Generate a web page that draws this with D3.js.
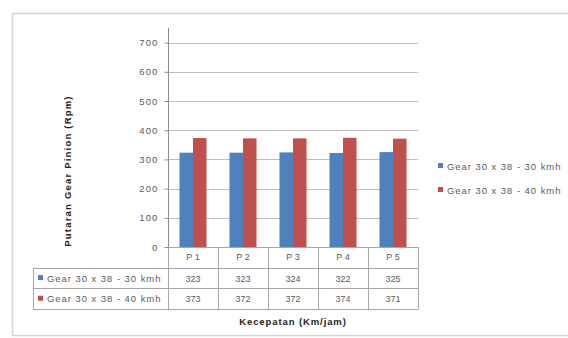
<!DOCTYPE html>
<html>
<head>
<meta charset="utf-8">
<script src="https://cdn.jsdelivr.net/npm/d3@7"></script>
<style>
  html, body { margin: 0; padding: 0; background: #fff; }
  svg { display: block; }
  text { font-family: "Liberation Sans", "DejaVu Sans", sans-serif; }
</style>
</head>
<body>
<svg id="chart" width="568" height="338"></svg>
<script>
// Gear speed test data
const categories = ["P 1", "P 2", "P 3", "P 4", "P 5"];
const seriesNames = ["Gear 30 x 38 - 30 kmh", "Gear 30 x 38 - 40 kmh"];
const series30 = [323, 323, 324, 322, 325];
const series40 = [373, 372, 372, 374, 371];
const yTicks = [0, 100, 200, 300, 400, 500, 600, 700];
const seriesColors = ["#4f81bd", "#c0504d"];
const yTitle = "Putaran Gear Pinion (Rpm)";
const xTitle = "Kecepatan (Km/jam)";

const seriesValues = [series30, series40];
const svg = d3.select("#chart");
const textGray = "#5a5a5a";

// Chart frame
svg.append("rect")
  .attr("x", 12.5).attr("y", 13.5)
  .attr("width", 600).attr("height", 322)
  .attr("fill", "#fff").attr("stroke", "#d4d4d4").attr("stroke-width", 1.5);

const plot = { left: 168, right: 418, top: 28, bottom: 247 };

const x = d3.scaleBand().domain(categories).range([plot.left, plot.right]);
const xInner = d3.scaleBand().domain(d3.range(seriesNames.length))
  .range([0, x.bandwidth()]).paddingOuter(0.85);
const y = d3.scaleLinear().domain([0, 750]).range([plot.bottom, plot.top]);

// Horizontal gridlines
svg.append("g").selectAll("line")
  .data(yTicks.filter(d => d > 0))
  .join("line")
  .attr("x1", plot.left).attr("x2", plot.right)
  .attr("y1", d => Math.round(y(d)) + 0.5).attr("y2", d => Math.round(y(d)) + 0.5)
  .attr("stroke", "#bdbdbd").attr("stroke-width", 1);

// Bars
const groups = svg.append("g").selectAll("g")
  .data(categories)
  .join("g")
  .attr("transform", d => `translate(${x(d)},0)`);

groups.selectAll("rect")
  .data((d, i) => seriesValues.map((vals, s) => ({ s, v: vals[i] })))
  .join("rect")
  .attr("x", d => xInner(d.s))
  .attr("width", xInner.bandwidth())
  .attr("y", d => y(d.v))
  .attr("height", d => y(0) - y(d.v))
  .attr("fill", d => seriesColors[d.s]);

// Y axis
const yAxis = d3.axisLeft(y).tickValues(yTicks).tickSize(4).tickPadding(6);
const gy = svg.append("g").attr("transform", `translate(${plot.left + 0.5},0)`).call(yAxis);
gy.select(".domain").attr("stroke", "#8c8c8c").attr("d", `M0,${plot.top}V${plot.bottom}`);
gy.selectAll(".tick line").attr("stroke", "#8c8c8c");
gy.selectAll(".tick text").attr("fill", textGray).attr("font-size", 9.5)
  .attr("letter-spacing", 1.1);

// Data table
const tableLeft = 33, rowH = 20.7;
const rowTop = [plot.bottom, plot.bottom + rowH, plot.bottom + 2 * rowH, plot.bottom + 3 * rowH];
const tbl = svg.append("g").attr("stroke", "#a6a6a6").attr("stroke-width", 1).attr("fill", "none");

// Horizontal rules
tbl.append("line").attr("x1", plot.left).attr("x2", plot.right)
  .attr("y1", rowTop[0] + 0.5).attr("y2", rowTop[0] + 0.5);
[1, 2, 3].forEach(r => {
  tbl.append("line").attr("x1", tableLeft).attr("x2", plot.right)
    .attr("y1", Math.round(rowTop[r]) + 0.5).attr("y2", Math.round(rowTop[r]) + 0.5);
});
// Vertical rules
tbl.append("line").attr("x1", tableLeft + 0.5).attr("x2", tableLeft + 0.5)
  .attr("y1", Math.round(rowTop[1]) + 0.5).attr("y2", Math.round(rowTop[3]) + 0.5);
categories.forEach(c => {
  tbl.append("line").attr("x1", x(c) + 0.5).attr("x2", x(c) + 0.5)
    .attr("y1", rowTop[0]).attr("y2", Math.round(rowTop[3]) + 0.5);
});
tbl.append("line").attr("x1", plot.right + 0.5).attr("x2", plot.right + 0.5)
  .attr("y1", rowTop[0]).attr("y2", Math.round(rowTop[3]) + 0.5);

// Category labels
svg.append("g").selectAll("text")
  .data(categories)
  .join("text")
  .attr("x", d => x(d) + x.bandwidth() / 2)
  .attr("y", rowTop[0] + rowH / 2 + 3)
  .attr("text-anchor", "middle")
  .attr("font-size", 9).attr("fill", textGray)
  .text(d => d);

// Value rows with series keys
seriesNames.forEach((name, s) => {
  const cy = rowTop[s + 1] + rowH / 2;
  svg.append("rect")
    .attr("x", tableLeft + 5).attr("y", cy - 3)
    .attr("width", 5).attr("height", 5)
    .attr("fill", seriesColors[s]);
  svg.append("text")
    .attr("x", tableLeft + 14).attr("y", cy + 3.5)
    .attr("font-size", 9.5).attr("fill", textGray)
    .attr("letter-spacing", 0.95)
    .text(name);
  svg.append("g").selectAll("text")
    .data(seriesValues[s])
    .join("text")
    .attr("x", (d, i) => x(categories[i]) + x.bandwidth() / 2)
    .attr("y", cy + 3.5)
    .attr("text-anchor", "middle")
    .attr("font-size", 9).attr("fill", textGray)
    .text(d => d);
});

// Axis titles
svg.append("text")
  .attr("x", (plot.left + plot.right) / 2).attr("y", 325)
  .attr("text-anchor", "middle")
  .attr("font-size", 9.5).attr("font-weight", "bold").attr("fill", "#222")
  .attr("letter-spacing", 0.9)
  .text(xTitle);

svg.append("text")
  .attr("transform", "translate(71,171) rotate(-90)")
  .attr("text-anchor", "middle")
  .attr("font-size", 9.5).attr("font-weight", "bold").attr("fill", "#222")
  .attr("letter-spacing", 1.2)
  .text(yTitle);

// Legend
const legend = svg.append("g").attr("transform", "translate(438,166)");
seriesNames.forEach((name, s) => {
  const ly = s * 24;
  legend.append("rect")
    .attr("x", 0).attr("y", ly - 3)
    .attr("width", 5).attr("height", 5)
    .attr("fill", seriesColors[s]);
  legend.append("text")
    .attr("x", 9).attr("y", ly + 3.5)
    .attr("font-size", 9.5).attr("fill", textGray)
    .attr("letter-spacing", 0.95)
    .text(name);
});
</script>
</body>
</html>
